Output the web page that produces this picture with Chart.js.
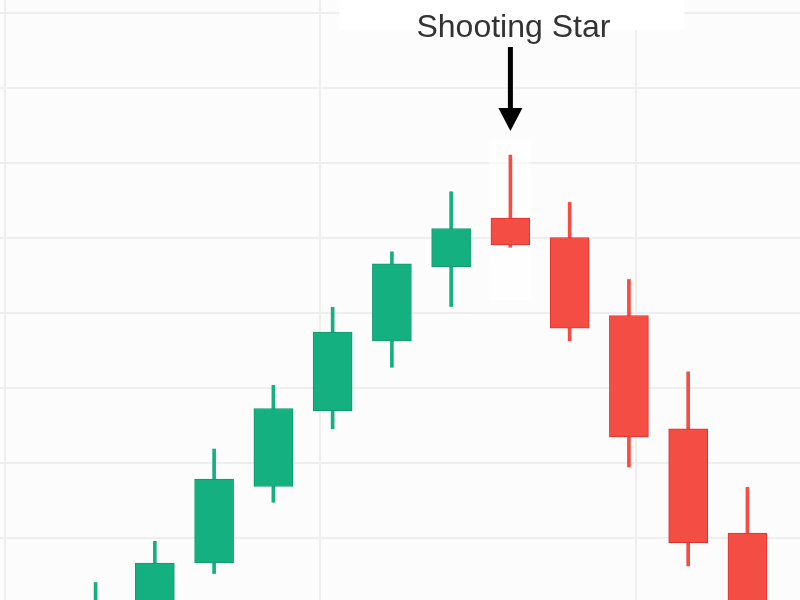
<!DOCTYPE html>
<html>
<head>
<meta charset="utf-8">
<script src="https://cdn.jsdelivr.net/npm/chart.js@4.4.1/dist/chart.umd.min.js"></script>
<style>
  html, body { margin: 0; padding: 0; background: #fcfcfc; }
  #box { width: 800px; height: 600px; }
</style>
</head>
<body>
<div id="box"><canvas id="candles" width="800" height="600"></canvas></div>
<script>
var days   = [1, 2, 3, 4, 5, 6, 7, 8, 9, 10, 11, 12];
var opens  = [95, 98, 106.6, 116.8, 126.9, 136.2, 146.1, 152.6, 150.0, 139.6, 124.5, 110.6];
var highs  = [104.0, 109.5, 121.8, 130.3, 140.7, 148.1, 156.1, 161.0, 154.7, 144.4, 132.1, 116.7];
var lows   = [93, 96, 105.2, 114.7, 124.5, 132.7, 140.8, 148.7, 136.2, 119.4, 106.2, 94];
var closes = [100.5, 106.6, 117.8, 127.2, 137.4, 146.5, 151.2, 149.0, 137.9, 123.4, 109.3, 98];
var priceTicks = [110, 120, 130, 140, 150, 160, 170, 180];
var patternDay = 8;
var patternName = 'Shooting Star';

var upFill = '#15b07f', upLine = '#0f9a6e';
var downFill = '#f44d43', downLine = '#e2312b';

var bodies = [], wicks = [], fills = [], lines = [];
for (var i = 0; i < days.length; i++) {
  bodies.push({ x: days[i], y: [opens[i], closes[i]] });
  wicks.push({ x: days[i], y: [lows[i], highs[i]] });
  var up = closes[i] >= opens[i];
  fills.push(up ? upFill : downFill);
  lines.push(up ? upLine : downLine);
}

// page background + white patches, then the arrow and text on top
var markPlugin = {
  id: 'mark',
  beforeDraw: function (chart) {
    var ctx = chart.ctx;
    ctx.save();
    ctx.fillStyle = '#fcfcfc';
    ctx.fillRect(0, 0, chart.width, chart.height);
    ctx.restore();
  },
  beforeDatasetsDraw: function (chart) {
    var ctx = chart.ctx;
    var idx = days.indexOf(patternDay);
    var x = chart.scales.x.getPixelForValue(patternDay);
    var top = chart.scales.y.getPixelForValue(highs[idx]);
    ctx.save();
    ctx.fillStyle = '#ffffff';
    ctx.fillRect(x - 171, 0, 345, 30);
    ctx.fillStyle = 'rgba(255,255,255,0.5)';
    ctx.fillRect(x - 21, top - 15, 42, 160);
    ctx.restore();
  },
  afterDraw: function (chart) {
    var ctx = chart.ctx;
    var idx = days.indexOf(patternDay);
    var x = chart.scales.x.getPixelForValue(patternDay);
    var top = chart.scales.y.getPixelForValue(highs[idx]);
    var tip = top - 24;
    ctx.save();
    ctx.fillStyle = '#000000';
    ctx.fillRect(x - 2.5, tip - 84, 5, 64);
    ctx.beginPath();
    ctx.moveTo(x - 12, tip - 23);
    ctx.lineTo(x + 12, tip - 23);
    ctx.lineTo(x, tip);
    ctx.closePath();
    ctx.fill();
    ctx.fillStyle = '#333333';
    ctx.font = '32px "Liberation Sans", Arial, sans-serif';
    ctx.textAlign = 'center';
    ctx.textBaseline = 'alphabetic';
    ctx.fillText(patternName, x + 3, tip - 94);
    ctx.restore();
  }
};

var ctx = document.getElementById('candles');
var chart = new Chart(ctx, {
  type: 'bar',
  data: {
    datasets: [
      {
        label: 'body',
        data: bodies,
        backgroundColor: fills,
        borderColor: lines,
        borderWidth: 1,
        borderSkipped: false,
        barThickness: 39,
        grouped: false
      },
      {
        label: 'wick',
        data: wicks,
        backgroundColor: fills,
        borderWidth: 0,
        barThickness: 3,
        grouped: false
      }
    ]
  },
  options: {
    responsive: false,
    animation: false,
    layout: { padding: 0 },
    plugins: {
      legend: { display: false },
      tooltip: { enabled: false }
    },
    scales: {
      x: {
        type: 'linear',
        display: false,
        offset: false,
        min: -0.613,
        max: 12.887
      },
      xg: {
        type: 'linear',
        position: 'bottom',
        offset: false,
        min: -0.015,
        max: 2.521,
        ticks: { display: false, stepSize: 1, includeBounds: false },
        grid: { color: '#eeeeee', lineWidth: 2, drawTicks: false, offset: false },
        border: { display: false }
      },
      y: {
        min: 101.67,
        max: 181.67,
        afterBuildTicks: function (scale) {
          scale.ticks = priceTicks.map(function (v) { return { value: v }; });
        },
        ticks: { display: false },
        grid: { color: '#eeeeee', lineWidth: 2, drawTicks: false },
        border: { display: false }
      }
    }
  },
  plugins: [markPlugin]
});
</script>
</body>
</html>
